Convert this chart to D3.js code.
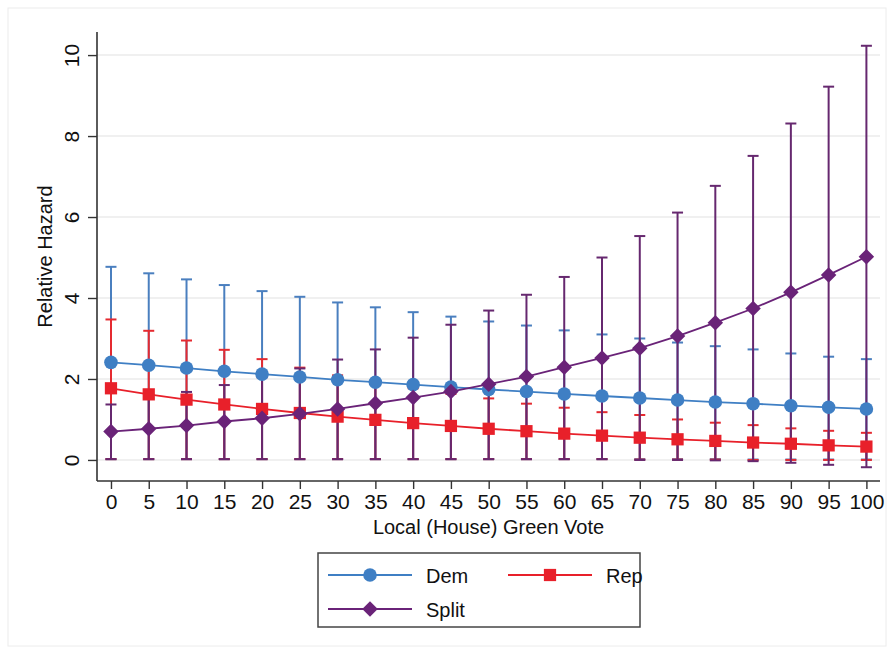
<!DOCTYPE html>
<html>
<head>
<meta charset="utf-8">
<script src="https://cdn.jsdelivr.net/npm/d3@7"></script>
<style>
  html, body { margin: 0; padding: 0; background: #ffffff; }
  svg { display: block; font-family: "Liberation Sans", Arial, Helvetica, sans-serif; }
</style>
</head>
<body>
<svg id="chart" width="892" height="654"></svg>
<script>
// ---- data ----
const greenVote = [0,5,10,15,20,25,30,35,40,45,50,55,60,65,70,75,80,85,90,95,100];
const xTickLabels = ["0","5","10","15","20","25","30","35","40","45","50","55","60","65","70","75","80","85","90","95","100"];
const yTickValues = [0,2,4,6,8,10];

const demHazard  = [2.41,2.34,2.27,2.19,2.12,2.05,1.98,1.92,1.86,1.80,1.74,1.69,1.63,1.58,1.53,1.48,1.43,1.39,1.34,1.30,1.26];
const demUpper   = [4.77,4.61,4.46,4.32,4.17,4.03,3.89,3.77,3.65,3.54,3.42,3.32,3.20,3.10,3.00,2.90,2.81,2.73,2.63,2.55,2.49];
const demLower   = [0.02,0.02,0.02,0.02,0.02,0.02,0.02,0.02,0.02,0.02,0.02,0.02,0.02,0.02,0.02,0.02,0.02,0.01,0.01,0.01,0.01];

const repHazard  = [1.77,1.62,1.49,1.37,1.26,1.16,1.07,0.99,0.91,0.84,0.77,0.71,0.65,0.60,0.55,0.51,0.47,0.43,0.40,0.36,0.33];
const repUpper   = [3.47,3.19,2.95,2.72,2.49,2.28,2.09,1.92,1.77,1.63,1.52,1.39,1.29,1.18,1.11,1.00,0.92,0.86,0.78,0.72,0.67];
const repLower   = [0.02,0.02,0.02,0.02,0.02,0.02,0.02,0.02,0.02,0.02,0.02,0.02,0.02,0.02,0.01,0.01,0.01,0.00,0.00,0.00,0.00];

const splitHazard = [0.70,0.77,0.85,0.95,1.03,1.14,1.26,1.40,1.54,1.69,1.87,2.06,2.29,2.52,2.76,3.06,3.39,3.74,4.14,4.57,5.02];
const splitUpper  = [1.37,1.52,1.68,1.85,2.04,2.26,2.48,2.73,3.02,3.34,3.69,4.08,4.52,5.00,5.53,6.11,6.77,7.51,8.31,9.22,10.23];
const splitLower  = [0.02,0.02,0.02,0.02,0.02,0.02,0.02,0.02,0.02,0.02,0.02,0.02,0.02,0.02,0.00,0.00,-0.01,-0.03,-0.07,-0.12,-0.18];

const seriesNames = ["Dem","Rep","Split"];
const xTitle = "Local (House) Green Vote";
const yTitle = "Relative Hazard";

// ---- styles ----
const colors = { Dem: "#3f7fc4", Rep: "#e8202a", Split: "#6a2378" };
const capColors = { Dem: "#4a7fbf", Rep: "#e52a30", Split: "#66286f" };

const svg = d3.select("#chart");

// faint outer frame
svg.append("rect").attr("x", 8).attr("y", 8).attr("width", 878).attr("height", 638)
  .attr("fill", "#ffffff").attr("stroke", "#ececec").attr("stroke-width", 1);

const plot = { left: 97, right: 880, top: 32, bottom: 481 };
const x = d3.scaleLinear().domain([-1.85, 101.8]).range([plot.left, plot.right]);
const y = d3.scaleLinear().domain([-0.52, 10.57]).range([plot.bottom, plot.top]);

// gridlines
svg.append("g").selectAll("line").data(yTickValues).join("line")
  .attr("x1", plot.left).attr("x2", plot.right)
  .attr("y1", d => y(d)).attr("y2", d => y(d))
  .attr("stroke", "#ebebeb").attr("stroke-width", 1.5);

// axes
const yAxis = d3.axisLeft(y).tickValues(yTickValues).tickSize(9).tickPadding(0).tickFormat(d3.format("d"));
const gy = svg.append("g").attr("transform", `translate(${plot.left},0)`).call(yAxis);
gy.select(".domain").attr("d", `M0,${plot.top}V${plot.bottom}`).attr("stroke", "#333").attr("stroke-width", 1.6);
gy.selectAll(".tick line").attr("stroke", "#333").attr("stroke-width", 1.4);
gy.selectAll(".tick text")
  .attr("x", 0).attr("y", 0).attr("dy", 0)
  .attr("transform", "translate(-18,0) rotate(-90)")
  .attr("text-anchor", "middle")
  .attr("font-size", 21).attr("fill", "#111")
  .attr("font-family", "Liberation Sans, Arial, sans-serif");

const xAxis = d3.axisBottom(x).tickValues(greenVote).tickSize(8).tickPadding(5)
  .tickFormat((d, i) => xTickLabels[i]);
const gx = svg.append("g").attr("transform", `translate(0,${plot.bottom})`).call(xAxis);
gx.select(".domain").attr("d", `M${plot.left},0H${plot.right}`).attr("stroke", "#333").attr("stroke-width", 1.6);
gx.selectAll(".tick line").attr("stroke", "#333").attr("stroke-width", 1.4);
gx.selectAll(".tick text").attr("font-size", 21).attr("fill", "#111")
  .attr("font-family", "Liberation Sans, Arial, sans-serif");

// axis titles
svg.append("text").attr("x", (plot.left + plot.right) / 2).attr("y", 534)
  .attr("text-anchor", "middle").attr("font-size", 20).attr("fill", "#111").text(xTitle);
svg.append("text").attr("transform", `translate(52,${(plot.top + plot.bottom) / 2}) rotate(-90)`)
  .attr("text-anchor", "middle").attr("font-size", 20).attr("fill", "#111").text(yTitle);

// data series
const series = [
  { name: "Dem", est: demHazard, lo: demLower, hi: demUpper, shape: d3.symbolCircle, size: 145, rot: 0 },
  { name: "Rep", est: repHazard, lo: repLower, hi: repUpper, shape: d3.symbolSquare, size: 150, rot: 0 },
  { name: "Split", est: splitHazard, lo: splitLower, hi: splitUpper, shape: d3.symbolSquare, size: 120, rot: 45 }
];

const capHalf = 5.5;
// range caps
series.forEach(s => {
  const g = svg.append("g").attr("stroke", capColors[s.name]).attr("stroke-width", 2).attr("fill", "none");
  greenVote.forEach((gv, i) => {
    const cx = x(gv);
    g.append("line").attr("x1", cx).attr("x2", cx).attr("y1", y(s.lo[i])).attr("y2", y(s.hi[i]));
    g.append("line").attr("x1", cx - capHalf).attr("x2", cx + capHalf).attr("y1", y(s.hi[i])).attr("y2", y(s.hi[i]));
    g.append("line").attr("x1", cx - capHalf).attr("x2", cx + capHalf).attr("y1", y(s.lo[i])).attr("y2", y(s.lo[i]));
  });
});

// connected lines + markers
const line = d3.line().x((d, i) => x(greenVote[i])).y(d => y(d));
series.forEach(s => {
  svg.append("path").datum(s.est).attr("d", line)
    .attr("fill", "none").attr("stroke", colors[s.name]).attr("stroke-width", 1.8);
  svg.append("g").selectAll("path").data(s.est).join("path")
    .attr("transform", (d, i) => `translate(${x(greenVote[i])},${y(d)}) rotate(${s.rot})`)
    .attr("d", d3.symbol().type(s.shape).size(s.size))
    .attr("fill", colors[s.name]);
});

// legend
const legend = svg.append("g");
legend.append("rect").attr("x", 318).attr("y", 553).attr("width", 322).attr("height", 74)
  .attr("fill", "#fff").attr("stroke", "#444").attr("stroke-width", 1.5);
const legendItems = [
  { s: series[0], lx: 328, ly: 575 },
  { s: series[1], lx: 508, ly: 575 },
  { s: series[2], lx: 328, ly: 609 }
];
legendItems.forEach(it => {
  legend.append("line").attr("x1", it.lx).attr("x2", it.lx + 84).attr("y1", it.ly).attr("y2", it.ly)
    .attr("stroke", colors[it.s.name]).attr("stroke-width", 1.8);
  legend.append("path").attr("transform", `translate(${it.lx + 42},${it.ly}) rotate(${it.s.rot})`)
    .attr("d", d3.symbol().type(it.s.shape).size(it.s.size)).attr("fill", colors[it.s.name]);
  legend.append("text").attr("x", it.lx + 98).attr("y", it.ly + 8)
    .attr("font-size", 20).attr("fill", "#111").text(it.s.name);
});
</script>
</body>
</html>
